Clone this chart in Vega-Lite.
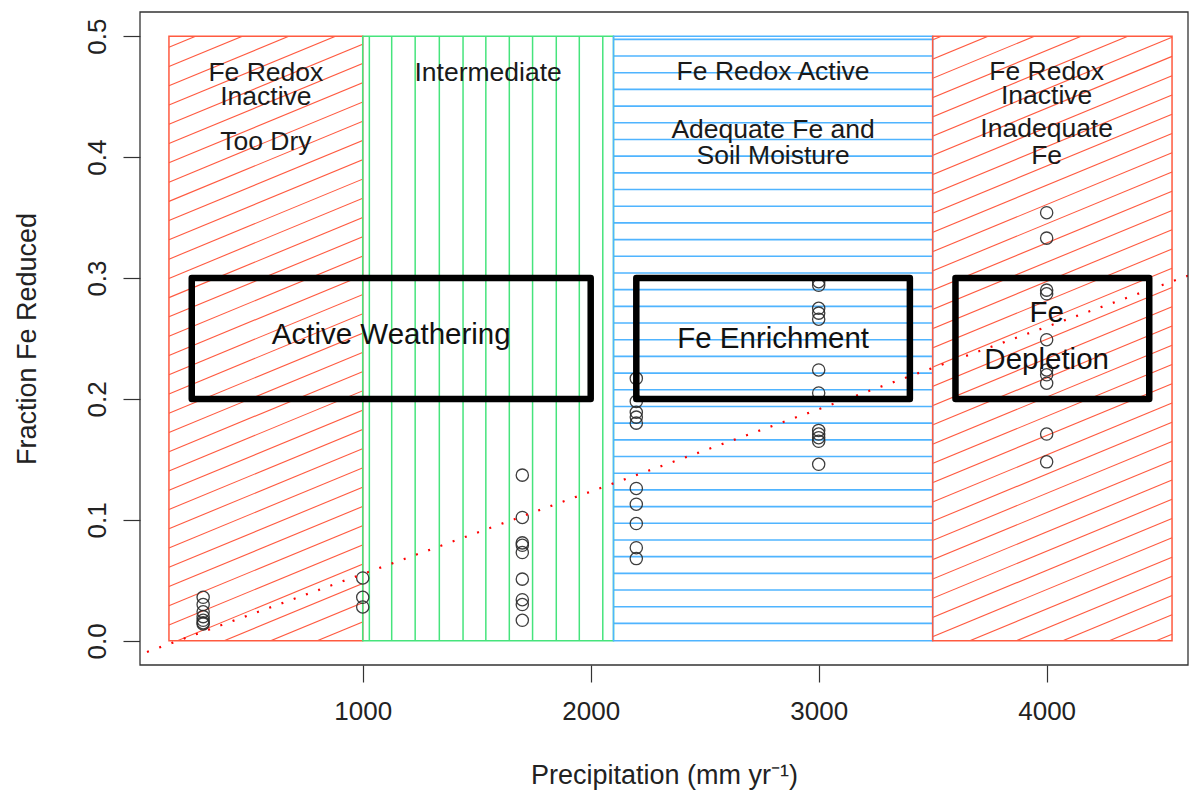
{
  "$schema": "https://vega.github.io/schema/vega-lite/v6.json",
  "width": 1048,
  "height": 653,
  "autosize": {"type": "none"},
  "padding": {"left": 140, "top": 12, "right": 2, "bottom": 127},
  "background": "white",
  "config": {"view": {"stroke": null}, "font": "Liberation Sans"},
  "encoding": {
    "x": {
      "field": "x", "type": "quantitative",
      "scale": {"domain": [23, 4620], "nice": false, "zero": false},
      "axis": {
        "values": [1000, 2000, 3000, 4000], "format": "d", "grid": false, "domain": false,
        "tickSize": 17, "tickColor": "#333", "tickWidth": 1.2,
        "labelFontSize": 26, "labelFont": "Liberation Sans", "labelColor": "#222", "labelPadding": 16,
        "labelFlush": false, "labelOverlap": false,
        "title": "Precipitation (mm yr⁻¹)", "titleFontSize": 27, "titleFontWeight": "normal",
        "titleFont": "Liberation Sans", "titleColor": "#222", "titlePadding": 38
      }
    },
    "y": {
      "field": "y", "type": "quantitative",
      "scale": {"domain": [-0.02, 0.52], "nice": false, "zero": false},
      "axis": {
        "values": [0, 0.1, 0.2, 0.3, 0.4, 0.5], "format": ".1f", "grid": false, "domain": false,
        "tickSize": 17, "tickColor": "#333", "tickWidth": 1.2,
        "labelAngle": -90, "labelAlign": "center", "labelBaseline": "bottom", "labelPadding": 13,
        "labelFontSize": 26, "labelFont": "Liberation Sans", "labelColor": "#222",
        "labelFlush": false, "labelOverlap": false,
        "title": "Fraction Fe Reduced", "titleFontSize": 27, "titleFontWeight": "normal",
        "titleFont": "Liberation Sans", "titleColor": "#222", "titlePadding": 43
      }
    }
  },
  "layer": [
    {
      "data": {"values": [
        {"x":150,"y":0.4908,"x2":4550,"y2":0.8336},{"x":150,"y":0.4749,"x2":4550,"y2":0.8177},
        {"x":150,"y":0.4590,"x2":4550,"y2":0.8018},{"x":150,"y":0.4430,"x2":4550,"y2":0.7858},
        {"x":150,"y":0.4271,"x2":4550,"y2":0.7699},{"x":150,"y":0.4112,"x2":4550,"y2":0.7540},
        {"x":150,"y":0.3953,"x2":4550,"y2":0.7381},{"x":150,"y":0.3793,"x2":4550,"y2":0.7221},
        {"x":150,"y":0.3634,"x2":4550,"y2":0.7062},{"x":150,"y":0.3475,"x2":4550,"y2":0.6903},
        {"x":150,"y":0.3316,"x2":4550,"y2":0.6744},{"x":150,"y":0.3156,"x2":4550,"y2":0.6584},
        {"x":150,"y":0.2997,"x2":4550,"y2":0.6425},{"x":150,"y":0.2838,"x2":4550,"y2":0.6266},
        {"x":150,"y":0.2679,"x2":4550,"y2":0.6107},{"x":150,"y":0.2519,"x2":4550,"y2":0.5947},
        {"x":150,"y":0.2360,"x2":4550,"y2":0.5788},{"x":150,"y":0.2201,"x2":4550,"y2":0.5629},
        {"x":150,"y":0.2042,"x2":4550,"y2":0.5470},{"x":150,"y":0.1882,"x2":4550,"y2":0.5310},
        {"x":150,"y":0.1723,"x2":4550,"y2":0.5151},{"x":150,"y":0.1564,"x2":4550,"y2":0.4992},
        {"x":150,"y":0.1405,"x2":4550,"y2":0.4833},{"x":150,"y":0.1245,"x2":4550,"y2":0.4673},
        {"x":150,"y":0.1086,"x2":4550,"y2":0.4514},{"x":150,"y":0.0927,"x2":4550,"y2":0.4355},
        {"x":150,"y":0.0768,"x2":4550,"y2":0.4196},{"x":150,"y":0.0608,"x2":4550,"y2":0.4036},
        {"x":150,"y":0.0449,"x2":4550,"y2":0.3877},{"x":150,"y":0.0290,"x2":4550,"y2":0.3718},
        {"x":150,"y":0.0131,"x2":4550,"y2":0.3559},{"x":150,"y":-0.0028,"x2":4550,"y2":0.3400},
        {"x":150,"y":-0.0188,"x2":4550,"y2":0.3240},{"x":150,"y":-0.0347,"x2":4550,"y2":0.3081},
        {"x":150,"y":-0.0506,"x2":4550,"y2":0.2922},{"x":150,"y":-0.0665,"x2":4550,"y2":0.2763},
        {"x":150,"y":-0.0825,"x2":4550,"y2":0.2603},{"x":150,"y":-0.0984,"x2":4550,"y2":0.2444},
        {"x":150,"y":-0.1143,"x2":4550,"y2":0.2285},{"x":150,"y":-0.1302,"x2":4550,"y2":0.2126},
        {"x":150,"y":-0.1462,"x2":4550,"y2":0.1966},{"x":150,"y":-0.1621,"x2":4550,"y2":0.1807},
        {"x":150,"y":-0.1780,"x2":4550,"y2":0.1648},{"x":150,"y":-0.1939,"x2":4550,"y2":0.1489},
        {"x":150,"y":-0.2099,"x2":4550,"y2":0.1329},{"x":150,"y":-0.2258,"x2":4550,"y2":0.1170},
        {"x":150,"y":-0.2417,"x2":4550,"y2":0.1011},{"x":150,"y":-0.2576,"x2":4550,"y2":0.0852},
        {"x":150,"y":-0.2736,"x2":4550,"y2":0.0692},{"x":150,"y":-0.2895,"x2":4550,"y2":0.0533},
        {"x":150,"y":-0.3054,"x2":4550,"y2":0.0374},{"x":150,"y":-0.3213,"x2":4550,"y2":0.0215},
        {"x":150,"y":-0.3373,"x2":4550,"y2":0.0055}
      ]},
      "mark": {"type": "rule", "clip": true, "stroke": "#ff5a40", "strokeWidth": 1.1},
      "encoding": {"x2": {"field": "x2"}, "y2": {"field": "y2"}}
    },
    {
      "data": {"values": [
        {"x": 1000, "x2": 3500, "y": -0.02, "y2": 0.52},
        {"x": 23, "x2": 4620, "y": 0.5, "y2": 0.52},
        {"x": 23, "x2": 4620, "y": -0.02, "y2": 0}
      ]},
      "mark": {"type": "rect", "clip": true, "fill": "white", "stroke": null},
      "encoding": {"x2": {"field": "x2"}, "y2": {"field": "y2"}}
    },
    {
      "data": {"values": [
        {"x":1029,"y":0,"y2":0.5},{"x":1127,"y":0,"y2":0.5},{"x":1230,"y":0,"y2":0.5},
        {"x":1336,"y":0,"y2":0.5},{"x":1440,"y":0,"y2":0.5},{"x":1540,"y":0,"y2":0.5},
        {"x":1643,"y":0,"y2":0.5},{"x":1745,"y":0,"y2":0.5},{"x":1849,"y":0,"y2":0.5},
        {"x":1950,"y":0,"y2":0.5},{"x":2053,"y":0,"y2":0.5}
      ]},
      "mark": {"type": "rule", "stroke": "#46e47c", "strokeWidth": 1.5},
      "encoding": {"y2": {"field": "y2"}}
    },
    {
      "data": {"values": [
        {"x":2100,"x2":3500,"y":0.0144},{"x":2100,"x2":3500,"y":0.0282},{"x":2100,"x2":3500,"y":0.0420},
        {"x":2100,"x2":3500,"y":0.0558},{"x":2100,"x2":3500,"y":0.0696},{"x":2100,"x2":3500,"y":0.0834},
        {"x":2100,"x2":3500,"y":0.0972},{"x":2100,"x2":3500,"y":0.1110},{"x":2100,"x2":3500,"y":0.1248},
        {"x":2100,"x2":3500,"y":0.1386},{"x":2100,"x2":3500,"y":0.1524},{"x":2100,"x2":3500,"y":0.1662},
        {"x":2100,"x2":3500,"y":0.1800},{"x":2100,"x2":3500,"y":0.1938},{"x":2100,"x2":3500,"y":0.2076},
        {"x":2100,"x2":3500,"y":0.2214},{"x":2100,"x2":3500,"y":0.2352},{"x":2100,"x2":3500,"y":0.2490},
        {"x":2100,"x2":3500,"y":0.2628},{"x":2100,"x2":3500,"y":0.2766},{"x":2100,"x2":3500,"y":0.2904},
        {"x":2100,"x2":3500,"y":0.3042},{"x":2100,"x2":3500,"y":0.3180},{"x":2100,"x2":3500,"y":0.3318},
        {"x":2100,"x2":3500,"y":0.3456},{"x":2100,"x2":3500,"y":0.3594},{"x":2100,"x2":3500,"y":0.3732},
        {"x":2100,"x2":3500,"y":0.3870},{"x":2100,"x2":3500,"y":0.4008},{"x":2100,"x2":3500,"y":0.4146},
        {"x":2100,"x2":3500,"y":0.4284},{"x":2100,"x2":3500,"y":0.4422},{"x":2100,"x2":3500,"y":0.4560},
        {"x":2100,"x2":3500,"y":0.4698},{"x":2100,"x2":3500,"y":0.4836},{"x":2100,"x2":3500,"y":0.4974}
      ]},
      "mark": {"type": "rule", "stroke": "#4fb4ff", "strokeWidth": 1.6},
      "encoding": {"x2": {"field": "x2"}}
    },
    {
      "data": {"values": [
        {"x": 150, "x2": 1000, "y": 0, "y2": 0.5, "zone": "dry"},
        {"x": 1000, "x2": 2100, "y": 0, "y2": 0.5, "zone": "intermediate"},
        {"x": 2100, "x2": 3500, "y": 0, "y2": 0.5, "zone": "active"},
        {"x": 3500, "x2": 4550, "y": 0, "y2": 0.5, "zone": "wet"}
      ]},
      "mark": {"type": "rect", "fillOpacity": 0, "strokeWidth": 1.5},
      "encoding": {
        "x2": {"field": "x2"},
        "y2": {"field": "y2"},
        "stroke": {
          "field": "zone", "type": "nominal", "legend": null,
          "scale": {"domain": ["dry", "intermediate", "active", "wet"], "range": ["#ff5a40", "#46e47c", "#4fb4ff", "#ff5a40"]}
        }
      }
    },
    {
      "data": {"values": [
        {"x": 575, "y": 0.4626, "label": "Fe Redox"},
        {"x": 575, "y": 0.4432, "label": "Inactive"},
        {"x": 575, "y": 0.4060, "label": "Too Dry"},
        {"x": 1550, "y": 0.4626, "label": "Intermediate"},
        {"x": 2800, "y": 0.4639, "label": "Fe Redox Active"},
        {"x": 2800, "y": 0.4162, "label": "Adequate Fe and"},
        {"x": 2800, "y": 0.3944, "label": "Soil Moisture"},
        {"x": 4000, "y": 0.4639, "label": "Fe Redox"},
        {"x": 4000, "y": 0.4438, "label": "Inactive"},
        {"x": 4000, "y": 0.4170, "label": "Inadequate"},
        {"x": 4000, "y": 0.3944, "label": "Fe"}
      ]},
      "mark": {"type": "text", "font": "Liberation Sans", "fontSize": 26.5, "align": "center", "baseline": "alphabetic", "color": "#1a1a1a"},
      "encoding": {"text": {"field": "label"}}
    },
    {
      "data": {"values": [
        {"x":300,"y":0.036},{"x":300,"y":0.030},{"x":300,"y":0.024},{"x":300,"y":0.020},{"x":300,"y":0.017},{"x":300,"y":0.015},{"x":300,"y":0.014},
        {"x":1000,"y":0.052},{"x":1000,"y":0.036},{"x":1000,"y":0.028},
        {"x":1700,"y":0.137},{"x":1700,"y":0.102},{"x":1700,"y":0.081},{"x":1700,"y":0.079},{"x":1700,"y":0.073},{"x":1700,"y":0.051},{"x":1700,"y":0.034},{"x":1700,"y":0.030},{"x":1700,"y":0.017},
        {"x":2200,"y":0.217},{"x":2200,"y":0.198},{"x":2200,"y":0.189},{"x":2200,"y":0.185},{"x":2200,"y":0.180},{"x":2200,"y":0.126},{"x":2200,"y":0.113},{"x":2200,"y":0.097},{"x":2200,"y":0.077},{"x":2200,"y":0.068},
        {"x":3000,"y":0.297},{"x":3000,"y":0.294},{"x":3000,"y":0.275},{"x":3000,"y":0.271},{"x":3000,"y":0.266},{"x":3000,"y":0.224},{"x":3000,"y":0.205},{"x":3000,"y":0.174},{"x":3000,"y":0.171},{"x":3000,"y":0.168},{"x":3000,"y":0.165},{"x":3000,"y":0.146},
        {"x":4000,"y":0.354},{"x":4000,"y":0.333},{"x":4000,"y":0.290},{"x":4000,"y":0.287},{"x":4000,"y":0.249},{"x":4000,"y":0.224},{"x":4000,"y":0.220},{"x":4000,"y":0.213},{"x":4000,"y":0.171},{"x":4000,"y":0.148}
      ]},
      "mark": {"type": "point", "shape": "circle", "filled": false, "size": 150, "stroke": "#2a2a2a", "strokeWidth": 1.3, "opacity": 0.9}
    },
    {
      "data": {"values": [{"x": 0, "y": -0.0129}, {"x": 4700, "y": 0.3074}]},
      "mark": {"type": "line", "clip": true, "stroke": "#ff0000", "strokeWidth": 2.2, "strokeDash": [2, 11], "strokeCap": "butt"}
    },
    {
      "data": {"values": [
        {"x": 250, "x2": 2000, "y": 0.2, "y2": 0.3},
        {"x": 2200, "x2": 3400, "y": 0.2, "y2": 0.3},
        {"x": 3600, "x2": 4450, "y": 0.2, "y2": 0.3}
      ]},
      "mark": {"type": "rect", "fillOpacity": 0, "stroke": "black", "strokeWidth": 6.5, "strokeJoin": "round"},
      "encoding": {"x2": {"field": "x2"}, "y2": {"field": "y2"}}
    },
    {
      "data": {"values": [
        {"x": 1125, "y": 0.2457, "label": "Active Weathering"},
        {"x": 2800, "y": 0.2425, "label": "Fe Enrichment"},
        {"x": 4000, "y": 0.2638, "label": "Fe"},
        {"x": 4000, "y": 0.2251, "label": "Depletion"}
      ]},
      "mark": {"type": "text", "font": "Liberation Sans", "fontSize": 29.5, "align": "center", "baseline": "alphabetic", "color": "#111"},
      "encoding": {"text": {"field": "label"}}
    },
    {
      "data": {"values": [{"x": 23, "x2": 4620, "y": -0.02, "y2": 0.52}]},
      "mark": {"type": "rect", "fillOpacity": 0, "stroke": "#333", "strokeWidth": 1.3},
      "encoding": {"x2": {"field": "x2"}, "y2": {"field": "y2"}}
    }
  ]
}
